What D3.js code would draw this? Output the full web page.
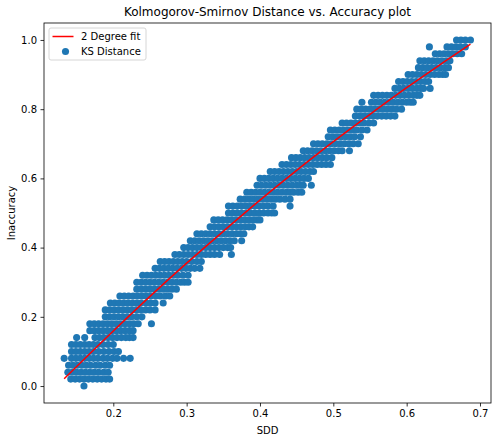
<!DOCTYPE html>
<html>
<head>
<meta charset="utf-8">
<script src="https://cdn.jsdelivr.net/npm/d3@7"></script>
<style>
  body { margin: 0; background: #fff; }
  text { font-family: "DejaVu Sans", sans-serif; fill: #000; }
</style>
</head>
<body>
<div id="main-content"></div>
<script>
// y levels (inaccuracy) and the SDD values of the points on each level
const inaccuracyLevels = [0.00, 0.02, 0.04, 0.06, 0.08, 0.10, 0.12, 0.14, 0.16, 0.18,
  0.20, 0.22, 0.24, 0.26, 0.28, 0.30, 0.32, 0.34, 0.36, 0.38,
  0.40, 0.42, 0.44, 0.46, 0.48, 0.50, 0.52, 0.54, 0.56, 0.58,
  0.60, 0.62, 0.64, 0.66, 0.68, 0.70, 0.72, 0.74, 0.76, 0.78,
  0.80, 0.82, 0.84, 0.86, 0.88, 0.90, 0.92, 0.94, 0.96, 0.98, 1.00];

const sddByLevel = [
  [0.160],
  [0.142,0.148,0.154,0.160,0.166,0.172,0.178,0.184,0.190,0.195],
  [0.138,0.144,0.150,0.156,0.162,0.168,0.174,0.180,0.187,0.193],
  [0.139,0.145,0.151,0.157,0.163,0.169,0.176,0.182,0.189,0.195],
  [0.133,0.143,0.149,0.155,0.161,0.167,0.173,0.179,0.186,0.192,0.199,0.205,0.214,0.223],
  [0.143,0.149,0.155,0.161,0.167,0.173,0.180,0.187,0.194,0.201,0.207],
  [0.143,0.149,0.155,0.161,0.167,0.173,0.179,0.186,0.193,0.200],
  [0.150,0.161,0.175,0.181,0.187,0.193,0.199,0.205,0.211,0.217,0.222,0.227],
  [0.168,0.174,0.180,0.186,0.192,0.198,0.204,0.210,0.216,0.222,0.227],
  [0.168,0.174,0.180,0.186,0.192,0.198,0.204,0.210,0.216,0.222,0.228,0.234,0.252],
  [0.189,0.195,0.201,0.207,0.213,0.219,0.225,0.232,0.239],
  [0.189,0.195,0.201,0.207,0.213,0.219,0.225,0.231,0.237,0.244,0.250,0.257],
  [0.196,0.202,0.208,0.214,0.220,0.226,0.232,0.238,0.245,0.251,0.257,0.268],
  [0.209,0.215,0.221,0.227,0.233,0.239,0.245,0.251,0.258,0.264,0.271,0.277],
  [0.232,0.238,0.244,0.250,0.256,0.262,0.268,0.274,0.280,0.286],
  [0.232,0.238,0.244,0.250,0.256,0.262,0.268,0.274,0.280,0.286,0.292,0.297,0.302],
  [0.240,0.246,0.252,0.258,0.264,0.270,0.276,0.282,0.288,0.295,0.302],
  [0.257,0.263,0.269,0.275,0.281,0.287,0.293,0.299,0.305,0.311,0.318],
  [0.264,0.270,0.276,0.282,0.288,0.294,0.300,0.307,0.314,0.320],
  [0.284,0.290,0.296,0.302,0.308,0.314,0.320,0.326,0.332,0.338,0.345,0.361],
  [0.296,0.302,0.308,0.314,0.320,0.326,0.332,0.338,0.344,0.350,0.356,0.360],
  [0.305,0.311,0.317,0.323,0.329,0.335,0.341,0.347,0.353,0.359,0.365,0.375],
  [0.314,0.320,0.326,0.332,0.338,0.344,0.350,0.356,0.362,0.368,0.373,0.378],
  [0.332,0.338,0.344,0.350,0.356,0.362,0.368,0.374,0.380,0.385,0.390],
  [0.337,0.343,0.349,0.355,0.361,0.367,0.373,0.379,0.385,0.391,0.396,0.400],
  [0.357,0.363,0.369,0.375,0.381,0.387,0.393,0.399,0.405,0.411,0.416,0.420],
  [0.357,0.363,0.369,0.375,0.381,0.387,0.393,0.399,0.405,0.411,0.418,0.441],
  [0.373,0.379,0.385,0.391,0.397,0.403,0.409,0.415,0.421,0.427,0.434,0.441],
  [0.382,0.388,0.394,0.400,0.406,0.412,0.418,0.424,0.430,0.436,0.441,0.446,0.452,0.457],
  [0.396,0.402,0.408,0.414,0.420,0.426,0.432,0.438,0.444,0.450,0.455,0.459,0.470],
  [0.400,0.406,0.412,0.418,0.424,0.430,0.436,0.442,0.448,0.454,0.460,0.466],
  [0.414,0.420,0.426,0.432,0.438,0.444,0.450,0.456,0.462,0.468,0.473],
  [0.430,0.436,0.442,0.448,0.454,0.460,0.466,0.472,0.478,0.484,0.490,0.496],
  [0.443,0.449,0.455,0.461,0.467,0.473,0.479,0.485,0.491,0.498],
  [0.459,0.465,0.471,0.477,0.483,0.489,0.495,0.501,0.507,0.512,0.522],
  [0.473,0.479,0.485,0.491,0.497,0.503,0.509,0.515,0.521,0.527,0.534],
  [0.493,0.499,0.505,0.511,0.517,0.523,0.529,0.537],
  [0.496,0.502,0.508,0.514,0.520,0.526,0.532,0.539,0.546],
  [0.512,0.518,0.524,0.530,0.536,0.542,0.549,0.555],
  [0.530,0.536,0.542,0.548,0.554,0.560,0.566,0.572,0.578,0.584],
  [0.532,0.538,0.544,0.550,0.556,0.562,0.568,0.574,0.580,0.586,0.593],
  [0.539,0.552,0.558,0.564,0.570,0.576,0.582,0.588,0.594,0.600,0.605,0.609],
  [0.555,0.561,0.567,0.573,0.579,0.585,0.591,0.597,0.603,0.609,0.614,0.618],
  [0.584,0.590,0.596,0.602,0.608,0.614,0.619,0.623,0.632],
  [0.589,0.595,0.601,0.607,0.613,0.619,0.625,0.630],
  [0.602,0.608,0.614,0.620,0.626,0.632,0.638,0.644,0.649,0.653],
  [0.616,0.622,0.628,0.634,0.640,0.646,0.652,0.657],
  [0.618,0.624,0.630,0.636,0.642,0.648,0.654,0.659],
  [0.639,0.645,0.651,0.657,0.663,0.669,0.675],
  [0.631,0.655,0.661,0.667,0.673,0.680],
  [0.668,0.674,0.680,0.687]
];

// the 2 degree fit
const fitSdd = [0.133, 0.20, 0.25, 0.30, 0.35, 0.40, 0.45, 0.50, 0.55, 0.60, 0.65, 0.687];
const fitInaccuracy = [0.021, 0.159, 0.259, 0.355, 0.447, 0.537, 0.623, 0.706, 0.785, 0.862, 0.935, 0.988];

const xTicks = [0.2, 0.3, 0.4, 0.5, 0.6, 0.7];
const yTicks = [0.0, 0.2, 0.4, 0.6, 0.8, 1.0];

const width = 497, height = 441;
const margin = {top: 23, right: 6, bottom: 38, left: 44};

const svg = d3.select("#main-content")
  .append("svg")
  .attr("width", width)
  .attr("height", height);

const x = d3.scaleLinear().domain([0.1055, 0.715]).range([margin.left, width - margin.right]);
const y = d3.scaleLinear().domain([-0.049, 1.049]).range([height - margin.bottom, margin.top]);

// flatten points
let points = [];
inaccuracyLevels.forEach((lvl, i) => {
  sddByLevel[i].forEach(s => points.push({sdd: s, inacc: lvl}));
});

svg.append("g")
  .selectAll("circle")
  .data(points)
  .enter()
  .append("circle")
  .attr("cx", d => x(d.sdd))
  .attr("cy", d => y(d.inacc))
  .attr("r", 3.55)
  .attr("fill", "#1f77b4");

const fit = fitSdd.map((s, i) => [s, fitInaccuracy[i]]);
svg.append("path")
  .datum(fit)
  .attr("fill", "none")
  .attr("stroke", "red")
  .attr("stroke-width", 1.5)
  .attr("d", d3.line().x(d => x(d[0])).y(d => y(d[1])).curve(d3.curveMonotoneX));

// axes
const xAxis = svg.append("g")
  .attr("transform", `translate(0,${height - margin.bottom})`)
  .call(d3.axisBottom(x).tickValues(xTicks).tickSize(3.5).tickPadding(3.5).tickFormat(d3.format(".1f")));
const yAxis = svg.append("g")
  .attr("transform", `translate(${margin.left},0)`)
  .call(d3.axisLeft(y).tickValues(yTicks).tickSize(3.5).tickPadding(3.5).tickFormat(d3.format(".1f")));

[xAxis, yAxis].forEach(a => {
  a.select(".domain").remove();
  a.selectAll("line").attr("stroke", "#000").attr("stroke-width", 0.8);
  a.selectAll("text").attr("font-size", 10).attr("font-family", "DejaVu Sans").attr("fill", "#000");
});

// frame
svg.append("rect")
  .attr("x", margin.left)
  .attr("y", margin.top)
  .attr("width", width - margin.left - margin.right)
  .attr("height", height - margin.top - margin.bottom)
  .attr("fill", "none")
  .attr("stroke", "#000")
  .attr("stroke-width", 0.8);

// title and labels
svg.append("text")
  .attr("x", (margin.left + width - margin.right) / 2)
  .attr("y", 16)
  .attr("text-anchor", "middle")
  .attr("font-size", 12)
  .text("Kolmogorov-Smirnov Distance vs. Accuracy plot");

svg.append("text")
  .attr("x", (margin.left + width - margin.right) / 2)
  .attr("y", 434)
  .attr("text-anchor", "middle")
  .attr("font-size", 10)
  .text("SDD");

svg.append("text")
  .attr("transform", `translate(15,${(margin.top + height - margin.bottom) / 2}) rotate(-90)`)
  .attr("text-anchor", "middle")
  .attr("font-size", 10)
  .text("Inaccuracy");

// legend
const legend = svg.append("g").attr("transform", "translate(49,28)");
legend.append("rect")
  .attr("width", 97)
  .attr("height", 32)
  .attr("rx", 2)
  .attr("fill", "#fff")
  .attr("fill-opacity", 0.8)
  .attr("stroke", "#cccccc")
  .attr("stroke-width", 0.8);
legend.append("line")
  .attr("x1", 3.5).attr("x2", 24.5)
  .attr("y1", 8.5).attr("y2", 8.5)
  .attr("stroke", "red")
  .attr("stroke-width", 1.5);
legend.append("text")
  .attr("x", 32).attr("y", 12)
  .attr("font-size", 10)
  .text("2 Degree fit");
legend.append("circle")
  .attr("cx", 16.5).attr("cy", 23.5)
  .attr("r", 3.55)
  .attr("fill", "#1f77b4");
legend.append("text")
  .attr("x", 32).attr("y", 27)
  .attr("font-size", 10)
  .text("KS Distance");
</script>
</body>
</html>
